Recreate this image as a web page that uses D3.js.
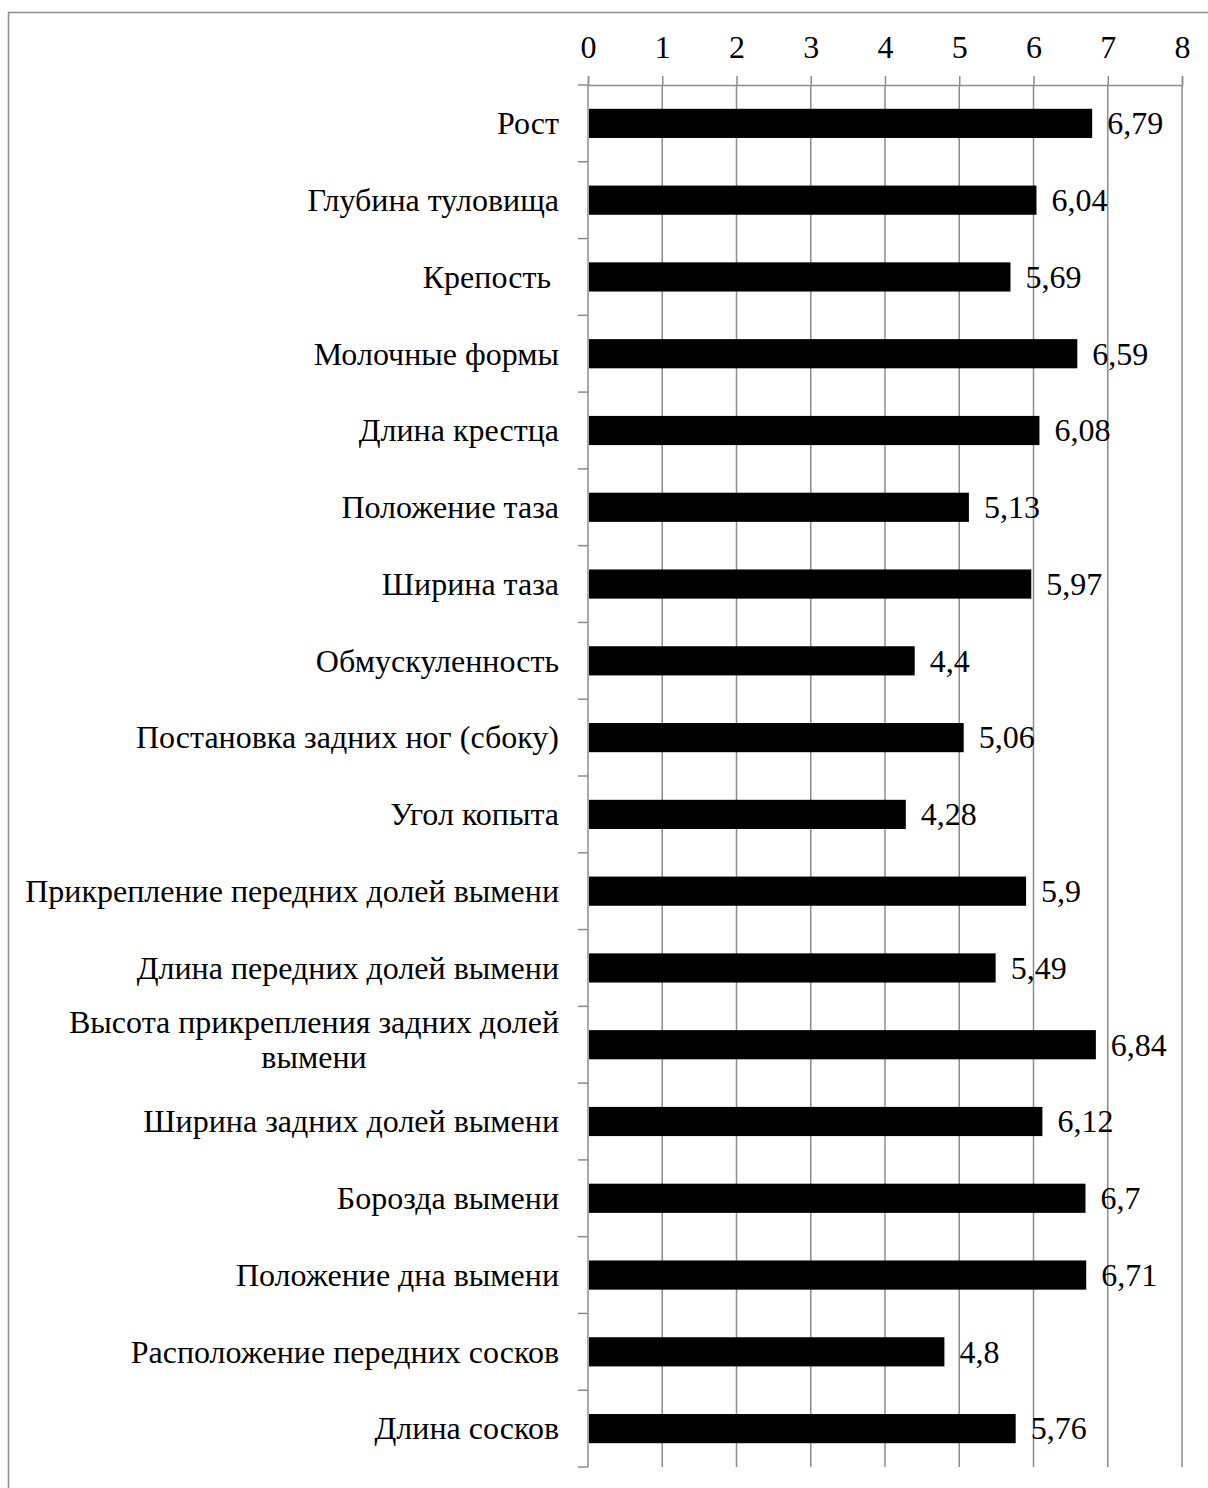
<!DOCTYPE html>
<html>
<head>
<meta charset="utf-8">
<script src="https://cdn.jsdelivr.net/npm/d3@7"></script>
<style>
  html, body { margin: 0; padding: 0; background: #fff; }
  svg { display: block; }
  text { font-family: "Liberation Serif", "Times New Roman", serif; fill: #000; white-space: pre; }
</style>
</head>
<body>
<svg id="chart" width="1208" height="1488"></svg>
<script>
// Linear trait scores (points)
const categories = [
  "Рост",
  "Глубина туловища",
  "Крепость ",
  "Молочные формы",
  "Длина крестца",
  "Положение таза",
  "Ширина таза",
  "Обмускуленность",
  "Постановка задних ног (сбоку)",
  "Угол копыта",
  "Прикрепление передних долей вымени",
  "Длина передних долей вымени",
  "Высота прикрепления задних долей вымени",
  "Ширина задних долей вымени",
  "Борозда вымени",
  "Положение дна вымени",
  "Расположение передних сосков",
  "Длина сосков"
];
const values = [6.79, 6.04, 5.69, 6.59, 6.08, 5.13, 5.97, 4.4, 5.06, 4.28, 5.9, 5.49, 6.84, 6.12, 6.7, 6.71, 4.8, 5.76];
const valueLabels = ["6,79", "6,04", "5,69", "6,59", "6,08", "5,13", "5,97", "4,4", "5,06", "4,28", "5,9", "5,49", "6,84", "6,12", "6,7", "6,71", "4,8", "5,76"];
const xTicks = [0, 1, 2, 3, 4, 5, 6, 7, 8];
// Labels that wrap onto two lines
const wrappedLines = {
  "Высота прикрепления задних долей вымени": ["Высота прикрепления задних долей", "вымени"]
};

const svg = d3.select("#chart");
const grid = "#8c8c8c";
const fontSize = 32;

const plot = { left: 588, right: 1182, top: 85, bottom: 1467 };

const x = d3.scaleLinear().domain([0, 8]).range([plot.left, plot.right]);
const y = d3.scaleBand().domain(categories).range([plot.top, plot.bottom]).paddingInner(0.62).paddingOuter(0.31);
const yBounds = d3.scaleBand().domain(categories).range([plot.top, plot.bottom]);

// Outer frame
svg.append("rect")
  .attr("x", 8.5).attr("y", 12.5)
  .attr("width", 1400).attr("height", 1600)
  .attr("fill", "none").attr("stroke", grid).attr("stroke-width", 1.5);

// Vertical gridlines
svg.append("g")
  .selectAll("line")
  .data(xTicks.filter(d => d > 0))
  .join("line")
  .attr("x1", d => x(d)).attr("x2", d => x(d))
  .attr("y1", plot.top).attr("y2", plot.bottom)
  .attr("stroke", grid).attr("stroke-width", 1.5);

// Top value axis
const xAxis = svg.append("g")
  .attr("transform", `translate(0,${plot.top})`)
  .call(d3.axisTop(x).tickValues(xTicks).tickSize(9).tickPadding(18).tickFormat(d3.format("d")));
xAxis.select(".domain").attr("stroke", grid).attr("stroke-width", 1.5);
xAxis.selectAll(".tick line").attr("stroke", grid).attr("stroke-width", 1.5);
xAxis.selectAll(".tick text")
  .attr("font-size", fontSize)
  .style("font-family", "'Liberation Serif', 'Times New Roman', serif")
  .attr("fill", "#000");

// Category axis line and band boundary ticks
const boundaries = categories.map(c => yBounds(c)).concat([plot.bottom]);
svg.append("line")
  .attr("x1", plot.left).attr("x2", plot.left)
  .attr("y1", plot.top).attr("y2", plot.bottom)
  .attr("stroke", grid).attr("stroke-width", 1.5);
svg.append("g")
  .selectAll("line")
  .data(boundaries)
  .join("line")
  .attr("x1", plot.left - 10).attr("x2", plot.left)
  .attr("y1", d => d).attr("y2", d => d)
  .attr("stroke", grid).attr("stroke-width", 1.5);

// Bars
svg.append("g")
  .selectAll("rect")
  .data(values)
  .join("rect")
  .attr("x", x(0) + 1)
  .attr("y", (d, i) => y(categories[i]))
  .attr("width", d => x(d) - x(0) - 1)
  .attr("height", y.bandwidth())
  .attr("fill", "#000");

// Value labels
svg.append("g")
  .selectAll("text")
  .data(values)
  .join("text")
  .attr("x", d => x(d) + 15)
  .attr("y", (d, i) => y(categories[i]) + y.bandwidth() / 2)
  .attr("dy", "0.34em")
  .attr("font-size", fontSize)
  .text((d, i) => valueLabels[i]);

// Category labels
const catG = svg.append("g");
categories.forEach(c => {
  const cy = y(c) + y.bandwidth() / 2;
  const lines = wrappedLines[c];
  if (!lines) {
    catG.append("text")
      .attr("x", 559).attr("y", cy).attr("dy", "0.34em")
      .attr("text-anchor", "end")
      .attr("font-size", fontSize)
      .text(c);
  } else {
    const lineGap = 35;
    const texts = lines.map((ln, k) => catG.append("text")
      .attr("font-size", fontSize)
      .attr("y", cy - 5 + (k - (lines.length - 1) / 2) * lineGap)
      .attr("dy", "0.34em")
      .text(ln));
    const w = d3.max(texts, t => t.node().getComputedTextLength());
    const center = 559 - w / 2;
    texts.forEach(t => t.attr("x", center).attr("text-anchor", "middle"));
  }
});
</script>
</body>
</html>
